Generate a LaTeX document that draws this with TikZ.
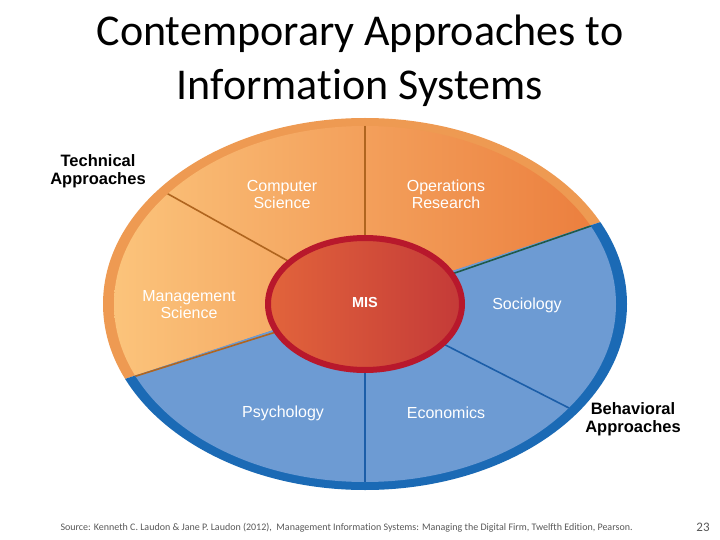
\documentclass[tikz,border=0pt]{standalone}
\usepackage{fontspec}
\setmainfont{Carlito}[Ligatures=NoCommon]
\newfontfamily\wheelfont{Liberation Sans}
\usepackage{tikz}
\definecolor{CAOrLight}{HTML}{FCC77E}
\definecolor{CAOrMid}{HTML}{F4A25A}
\definecolor{CAOrDark}{HTML}{EA7838}
\definecolor{CAOrRing}{HTML}{EE9A52}
\definecolor{CAOrLine}{HTML}{B0651F}
\definecolor{CATeal}{HTML}{1F5A4A}
\definecolor{CABlue}{HTML}{6D9BD3}
\definecolor{CABlRing}{HTML}{1B6AB5}
\definecolor{CABlLine}{HTML}{1C5EA8}
\definecolor{CARed}{HTML}{B8182C}
\definecolor{CARedLight}{HTML}{E2643B}
\definecolor{CARedDark}{HTML}{C43A38}
\definecolor{CAGray}{HTML}{595959}

\begin{document}
\begin{tikzpicture}[x=1pt,y=-1pt,
  seglabel/.style={text=white,align=center,font=\wheelfont\fontsize{16}{17}\selectfont},
  sidelabel/.style={text=black,align=center,font=\wheelfont\bfseries\fontsize{16.5}{17.5}\selectfont}]
\path[use as bounding box] (0,0) rectangle (720,540);
\fill[white] (0,0) rectangle (720,540);
\coordinate (c) at (365,304);
% title
\node[align=center,font=\fontsize{44}{54}\selectfont] (title) at (360,61) {Contemporary Approaches to\\Information Systems};
% outer ring
\begin{scope}
\clip (c) ellipse [x radius=262pt, y radius=186pt];
\fill[CAOrRing] (90,390.5) -- (640,209) -- (640,100) -- (90,100) -- cycle;
\fill[CABlRing] (90,390.5) -- (640,209) -- (640,510) -- (90,510) -- cycle;
\end{scope}
% segments
\begin{scope}
\clip (c) ellipse [x radius=251pt, y radius=178pt];
\shade[left color=CAOrLight,middle color=CAOrMid,right color=CAOrDark] (90,390.5) -- (640,209) -- (640,100) -- (90,100) -- cycle;
\fill[CABlue] (90,390.5) -- (640,209) -- (640,510) -- (90,510) -- cycle;
\draw[CAOrLine,line width=1.6pt] (c) -- (365,100);
\draw[CAOrLine,line width=1.6pt] (c) -- ++(-219.4,-122.6);
\draw[CAOrLine,line width=1.6pt] (c) -- (90,390.5);
\draw[CATeal,line width=1.6pt] (c) -- (640,209);
\draw[CABlLine,line width=1.6pt] (c) -- (365,510);
\draw[CABlLine,line width=1.6pt] (c) -- ++(222,113.2);
\end{scope}
% MIS
\shade[left color=CARedLight,right color=CARedDark,draw=CARed,line width=6pt] (c) ellipse [x radius=97pt, y radius=66pt];
\node[text=white,font=\wheelfont\bfseries\fontsize{14.5}{16}\selectfont] (mis) at (365,303) {MIS};
\node[seglabel] (cs) at (282,194) {Computer\\Science};
\node[seglabel] (opr) at (446,194) {Operations\\Research};
\node[seglabel] (mgt) at (189,305) {Management\\Science};
\node[seglabel] (soc) at (527,305) {Sociology};
\node[seglabel] (psy) at (283,413) {Psychology};
\node[seglabel] (eco) at (446,413) {Economics};
\node[sidelabel] (tech) at (98,171) {Technical\\Approaches};
\node[sidelabel] (behav) at (633,419) {Behavioral\\Approaches};
% footer
\node[anchor=west,text=CAGray,font=\fontsize{10}{11}\selectfont] (src) at (57,528) {Source: Kenneth C. Laudon \& Jane P. Laudon (2012),\ \ Management Information Systems: Managing the Digital Firm, Twelfth Edition, Pearson.};
\node[text=CAGray,font=\fontsize{13}{14}\selectfont] (pgno) at (703,527) {23};
\end{tikzpicture}
\end{document}
